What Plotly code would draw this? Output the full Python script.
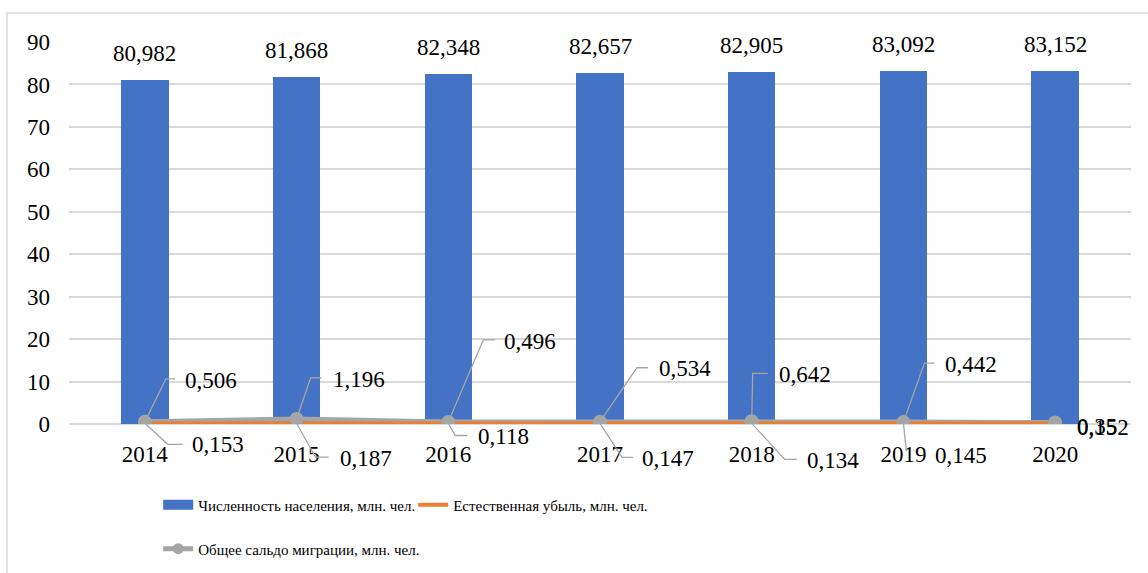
import plotly.graph_objects as go

years = [2014, 2015, 2016, 2017, 2018, 2019, 2020]
population = [80.982, 81.868, 82.348, 82.657, 82.905, 83.092, 83.152]
natural_decrease = [0.153, 0.187, 0.118, 0.147, 0.134, 0.145, 0.152]
migration = [0.506, 1.196, 0.496, 0.534, 0.642, 0.442, 0.35]

name_pop = "Численность населения, млн. чел."
name_nat = "Естественная убыль, млн. чел."
name_mig = "Общее сальдо миграции, млн. чел."

BLUE = "#4472c4"
ORANGE = "#ed7d31"
GRAY = "#a5a5a5"
GRID = "#d9d9d9"
FONT = "Liberation Serif"
Y_MAX = 90

# leader-line geometry for the data labels, in pixels relative to the point:
# (diagonal end dx, dy, horizontal end dx, label left dx, label centre dy)
mig_leaders = [
    (21, 43, 30, 38, 41),
    (14, 41, 25, 34, 39),
    (35, 82, 47, 54, 80),
    (37, 54, 48, 57, 53),
    (1, 48, 16, 25, 47),
    (21, 59, 31, 40, 58),
    None,
]
nat_leaders = [
    (23, -21, 38, 45, -21),
    (19, -34, 32, 41, -35),
    (7, -12, 19, 28, -13),
    (22, -34, 33, 40, -35),
    (33, -36, 45, 53, -37),
    (3, -28, 3, 30, -32),
    None,
]


def fmt(v):
    s = f"{v:.3f}".rstrip("0")
    return s.replace(".", ",")


fig = go.Figure()

fig.add_trace(go.Bar(
    x=years, y=population, width=0.313,
    marker=dict(color=BLUE, line=dict(width=0)),
    name=name_pop, showlegend=False,
))
fig.add_trace(go.Scatter(
    x=years, y=migration, mode="lines",
    line=dict(color=GRAY, width=5),
    name=name_mig, showlegend=False,
))
fig.add_trace(go.Scatter(
    x=years, y=natural_decrease, mode="lines",
    line=dict(color=ORANGE, width=3.5),
    name=name_nat, showlegend=False,
))
fig.add_trace(go.Scatter(
    x=years, y=migration, mode="markers",
    marker=dict(color=GRAY, size=14),
    name=name_mig, showlegend=False,
))

# legend entries
fig.add_trace(go.Scatter(
    x=[None], y=[None], mode="lines", line=dict(color=BLUE, width=10),
    name=name_pop, legend="legend",
))
fig.add_trace(go.Scatter(
    x=[None], y=[None], mode="lines", line=dict(color=ORANGE, width=4),
    name=name_nat, legend="legend",
))
fig.add_trace(go.Scatter(
    x=[None], y=[None], mode="lines+markers",
    line=dict(color=GRAY, width=5), marker=dict(color=GRAY, size=11),
    name=name_mig, legend="legend2",
))

annotations = []
shapes = []

for x, v in zip(years, population):
    annotations.append(dict(
        x=x, y=v, xref="x", yref="y", text=fmt(v), showarrow=False,
        yanchor="bottom", yshift=12, font=dict(family=FONT, size=23, color="black"),
    ))


def add_labels(values, leaders, default_dy):
    for x, v, ld in zip(years, values, leaders):
        if ld is None:
            annotations.append(dict(
                x=x, y=v, xref="x", yref="y", text=fmt(v), showarrow=False,
                xanchor="left", yanchor="middle", xshift=20, yshift=default_dy,
                font=dict(family=FONT, size=23, color="black"),
            ))
            continue
        dx1, dy1, dx2, lx, ly = ld
        # paper y-reference so leaders may run below the axis without clipping
        shapes.append(dict(
            type="path", xref="x", yref="paper",
            xsizemode="pixel", ysizemode="pixel", xanchor=x, yanchor=v / Y_MAX,
            path=f"M0,0 L{dx1},{dy1} L{dx2},{dy1}",
            line=dict(color=GRAY, width=1.3), layer="above",
        ))
        annotations.append(dict(
            x=x, y=v, xref="x", yref="y", text=fmt(v), showarrow=False,
            xanchor="left", yanchor="middle", xshift=lx, yshift=ly,
            font=dict(family=FONT, size=23, color="black"),
        ))


add_labels(migration, mig_leaders, -4)
add_labels(natural_decrease, nat_leaders, -4)

# outer chart border (right and bottom edges run past the canvas)
shapes.append(dict(
    type="rect", xref="paper", yref="paper",
    x0=-0.0584, x1=1.03, y0=-0.42, y1=1.0759,
    line=dict(color=GRID, width=1.5), layer="below",
))

fig.update_layout(
    width=1148, height=573,
    margin=dict(l=69, r=17, t=42, b=149, autoexpand=False),
    plot_bgcolor="white", paper_bgcolor="white",
    font=dict(family=FONT, size=23, color="black"),
    bargap=0.0,
    xaxis=dict(
        range=[2013.5, 2020.5], tickmode="array", tickvals=years,
        ticktext=[str(y) for y in years], showgrid=False, zeroline=False,
        showline=False, ticks="", ticklabelstandoff=14,
        tickfont=dict(family=FONT, size=23, color="black"),
    ),
    yaxis=dict(
        range=[0, Y_MAX], dtick=10, showgrid=True, gridcolor=GRID, gridwidth=1.5,
        zeroline=True, zerolinecolor=GRID, zerolinewidth=1.5,
        showline=False, ticks="", ticklabelstandoff=18,
        tickfont=dict(family=FONT, size=23, color="black"),
    ),
    legend=dict(
        orientation="h", x=0.084, y=-0.212, xanchor="left", yanchor="middle",
        font=dict(family=FONT, size=15, color="black"),
        bgcolor="rgba(0,0,0,0)", itemwidth=30, entrywidth=210,
    ),
    legend2=dict(
        orientation="h", x=0.084, y=-0.327, xanchor="left", yanchor="middle",
        font=dict(family=FONT, size=15, color="black"),
        bgcolor="rgba(0,0,0,0)", itemwidth=30,
    ),
    annotations=annotations,
    shapes=shapes,
)

fig.write_html("out.html")
